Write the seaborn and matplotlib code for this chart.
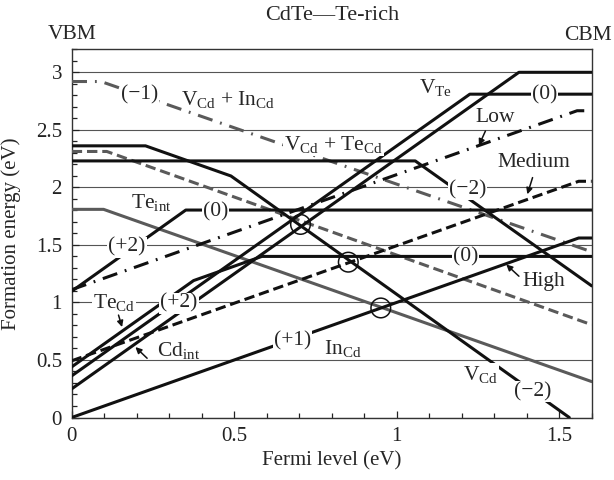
import matplotlib
matplotlib.use("Agg")
import matplotlib.pyplot as plt
from matplotlib.ticker import MultipleLocator, FuncFormatter
import seaborn as sns

# ---- formation-energy curves (Fermi level in eV, formation energy in eV) ----
vcd_x = [0.0, 0.227, 0.49, 1.531]
vcd_y = [2.361, 2.361, 2.099, 0.0]

vcd_tecd_black_x = [0.0, 1.057, 1.6]
vcd_tecd_black_y = [2.230, 2.230, 1.144]

vte_x = [0.0, 1.225, 1.6]
vte_y = [0.362, 2.81, 2.81]

cdint_x = [0.0, 1.376, 1.6]
cdint_y = [0.249, 3.0, 3.0]

tecd_x = [0.0, 0.375, 0.585, 1.6]
tecd_y = [0.44, 1.19, 1.40, 1.40]

teint_x = [0.0, 0.351, 1.6]
teint_y = [1.097, 1.803, 1.803]

incd_x = [0.0, 1.56, 1.6]
incd_y = [0.0, 1.56, 1.56]

gray_solid_x = [0.0, 0.098, 1.6]
gray_solid_y = [1.809, 1.809, 0.312]

vcd_tecd_x = [0.0, 0.108, 1.6]
vcd_tecd_y = [2.312, 2.312, 0.806]

vcd_incd_x = [0.0, 0.09, 1.6]
vcd_incd_y = [2.92, 2.92, 1.44]

low_x = [0.0, 1.555, 1.6]
low_y = [1.111, 2.666, 2.666]

medium_x = [0.0, 1.56, 1.6]
medium_y = [0.493, 2.053, 2.053]

# marked crossing points
cross_x = [0.704, 0.851, 0.951]
cross_y = [1.678, 1.35, 0.952]

title = "CdTe\u2014Te-rich"
xlabel = "Fermi level (eV)"
ylabel = "Formation energy (eV)"

sns.set_style("white")
plt.rcParams["font.family"] = ["Liberation Serif", "DejaVu Serif"]
plt.rcParams["mathtext.fontset"] = "custom"
plt.rcParams["mathtext.rm"] = "Liberation Serif"

fig = plt.figure(figsize=(6.14, 4.80), dpi=100)
ax = fig.add_axes([0.1168, 0.1302, 0.8469, 0.7671])

BLACK = "#111111"
GRAY = "#5a5a5a"
LW = 2.2

def curve(x, y, color, ls="-", lw=LW, z=3):
    sns.lineplot(x=x, y=y, ax=ax, sort=False, estimator=None, color=color,
                 linewidth=lw, linestyle=ls, zorder=z)

dash = (0, (3.4, 1.6))
dashdot = (0, (5.0, 2.6, 0.6, 2.6))

curve(gray_solid_x, gray_solid_y, GRAY)
curve(vcd_tecd_x, vcd_tecd_y, GRAY, ls=dash)
curve(vcd_incd_x, vcd_incd_y, GRAY, ls=dashdot)
curve(vcd_x, vcd_y, BLACK)
curve(vcd_tecd_black_x, vcd_tecd_black_y, BLACK)
curve(vte_x, vte_y, BLACK)
curve(cdint_x, cdint_y, BLACK)
curve(tecd_x, tecd_y, BLACK)
curve(teint_x, teint_y, BLACK)
curve(incd_x, incd_y, BLACK)
curve(low_x, low_y, BLACK, ls=dashdot)
curve(medium_x, medium_y, BLACK, ls=dash)

sns.scatterplot(x=cross_x, y=cross_y, ax=ax, s=200, marker="o",
                facecolor="none", edgecolor=BLACK, linewidth=1.1, zorder=6)

ax.set_xlim(0, 1.6)
ax.set_ylim(0, 3.2)
ax.xaxis.set_major_locator(MultipleLocator(0.5))
ax.xaxis.set_minor_locator(MultipleLocator(0.1))
ax.yaxis.set_major_locator(MultipleLocator(0.5))
ax.yaxis.set_minor_locator(MultipleLocator(0.1))
fmt = FuncFormatter(lambda v, p: f"{v:g}")
ax.xaxis.set_major_formatter(fmt)
ax.yaxis.set_major_formatter(fmt)
ax.tick_params(which="both", direction="in", bottom=True, left=True,
               top=False, right=False, colors="#222222", labelsize=15, width=0.9)
ax.tick_params(which="major", length=5, pad=7)
ax.tick_params(which="minor", length=3.5)
ax.grid(axis="y", which="major", color="#555555", linewidth=0.8, zorder=1)
ax.set_axisbelow(True)
for s in ax.spines.values():
    s.set_color("#333333")
    s.set_linewidth(1.0)

ax.set_xlabel(xlabel, fontsize=15)
ax.set_ylabel(ylabel, fontsize=15)
ax.xaxis.set_label_coords(0.5, -0.092)
ax.yaxis.set_label_coords(-0.097, 0.5)

ax.text(0.5, 1.093, title, transform=ax.transAxes, ha="center", va="center", fontsize=16)
ax.text(0.0, 1.039, "VBM", transform=ax.transAxes, ha="center", va="center", fontsize=15.5)
fig.text(0.996, 0.927, "CBM", ha="right", va="center", fontsize=15.5)

box = dict(facecolor="white", edgecolor="none", pad=0.6)
FS = 15.5

def label(x, y, s, bg=True):
    ax.text(x, y, s, ha="center", va="center", fontsize=FS, zorder=8,
            bbox=box if bg else None)

label(0.21, 2.80, "(\u22121)")
label(0.48, 2.76, r"V$_\mathregular{Cd}$ + In$_\mathregular{Cd}$", bg=False)
label(1.118, 2.86, r"V$_\mathregular{Te}$", bg=False)
label(1.454, 2.80, "(0)")
label(0.805, 2.37, r"V$_\mathregular{Cd}$ + Te$_\mathregular{Cd}$")
label(1.217, 1.98, "(\u22122)")
label(0.245, 1.86, r"Te$_\mathregular{int}$", bg=False)
label(0.443, 1.79, "(0)")
label(0.17, 1.48, "(+2)")
label(1.211, 1.40, "(0)")
label(0.129, 0.995, r"Te$_\mathregular{Cd}$")
label(0.33, 0.995, "(+2)")
label(0.33, 0.574, r"Cd$_\mathregular{int}$", bg=False)
label(0.68, 0.665, "(+1)")
label(0.835, 0.59, r"In$_\mathregular{Cd}$", bg=False)
label(1.258, 0.37, r"V$_\mathregular{Cd}$")
label(1.418, 0.225, "(\u22122)")

arrow = dict(arrowstyle="-|>", color=BLACK, lw=1.1, mutation_scale=9,
             shrinkA=0, shrinkB=0)

def pointer(text, tx, ty, px, py, sx, sy):
    ax.text(tx, ty, text, ha="center", va="center", fontsize=FS, zorder=8)
    ax.annotate("", xy=(px, py), xytext=(sx, sy), arrowprops=arrow, zorder=8)

pointer("Low", 1.303, 2.61, 1.253, 2.365, 1.273, 2.49)
pointer("Medium", 1.423, 2.216, 1.402, 1.94, 1.418, 2.085)
pointer("High", 1.454, 1.184, 1.337, 1.33, 1.376, 1.228)
ax.annotate("", xy=(0.155, 0.786), xytext=(0.144, 0.89), arrowprops=arrow, zorder=8)
ax.annotate("", xy=(0.196, 0.612), xytext=(0.232, 0.515), arrowprops=arrow, zorder=8)

fig.savefig("out.png", dpi=100)
